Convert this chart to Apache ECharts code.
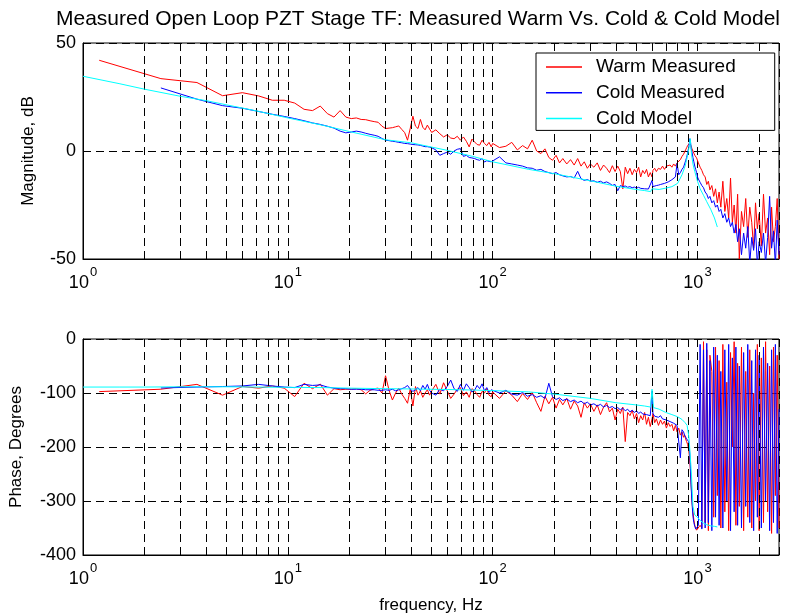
<!DOCTYPE html>
<html><head><meta charset="utf-8">
<script src="https://cdn.jsdelivr.net/npm/echarts@6/dist/echarts.min.js"></script>
<style>html,body{margin:0;padding:0;background:#fff}#c{width:788px;height:616px}</style>
</head><body><div id="c"></div>
<script>
// ---- data ----
const freqMeas = [
  1.2, 2.4, 3.6, 4.8, 6.0, 7.2, 8.4, 9.6, 10.8, 12.0, 13.2, 14.4, 15.6, 16.8, 18.0, 19.2, 20.4, 21.6, 22.8, 24.0, 25.2, 26.4, 27.6, 28.8, 30.0,
  31.2, 32.4, 33.6, 34.8, 36.0, 37.2, 38.4, 39.6, 40.8, 42.0, 43.2, 44.4, 45.6, 46.8, 48.0, 49.2, 50.4,
  52.8, 55.2, 57.6, 60.0, 62.4, 64.8, 67.2, 69.6, 72.0, 74.4, 76.8, 79.2, 81.6, 84.0, 86.4, 88.8, 91.2, 93.6, 96.0, 98.4,
  100, 108, 116, 124, 132, 140, 148, 156, 164, 172, 180, 188, 196, 204, 212, 220, 230, 240, 250, 260, 270, 280, 290, 300,
  312, 324, 336, 348, 360, 372, 384, 396, 408, 420, 432, 444, 456, 468, 480, 492, 504, 516, 528, 540, 552, 564, 576, 588, 600,
  606, 618, 630, 645, 660, 675, 690, 705, 720, 735, 750, 765, 780, 795, 810, 825, 840, 855, 865, 875, 885, 895, 905, 912, 918, 924, 930, 940, 950, 960, 970, 980, 990, 1000,
  1010, 1030, 1050, 1070, 1090, 1110, 1130, 1150, 1175, 1200, 1225, 1250, 1275, 1300, 1330, 1360, 1390, 1420, 1450, 1480, 1510, 1540, 1570, 1600, 1640, 1680, 1720, 1760, 1800, 1840, 1880, 1920, 1960, 2000, 2050, 2100, 2150, 2200, 2250, 2300, 2350, 2400, 2450, 2500
];
const warmMag = [
  42.0, 33.5, 31.7, 25.6, 27.0, 25.5, 23.5, 23.5, 22.2, 19.3, 18.7, 20.8, 17.3, 15.7, 18.7, 15.7, 15.0, 15.3, 14.6, 14.5, 14.0, 13.6, 13.3, 11.5, 10.4,
  10.6, 10.8, 11.2, 11.6, 10.0, 8.5, 5.0, 10.5, 16.1, 11.5, 10.4, 14.6, 11.0, 9.8, 12.0, 10.2, 8.6,
  9.8, 8.0, 6.5, 7.5, 6.0, 5.7, 6.8, 5.0, 6.5, 4.5, 1.9, 5.5, 4.2, 3.0, 2.7, 5.0, 3.5, 2.5, 4.0, 1.9,
  3.5, 1.6, 2.2, 4.0, 0.5, 2.5, 1.0, 5.0, 0.0, -1.2, 1.0, -3.0, -4.3, -2.0, -5.5, -3.5, -6.0, -4.0, -6.5, -3.5, -7.0, -5.0, -8.0, -6.0,
  -7.5, -5.5, -9.0, -6.5, -8.0, -10.0, -6.8, -9.5, -7.0, -9.5, -17.5, -7.5, -10.5, -8.0, -11.0, -8.5, -10.0, -7.5, -12.0, -9.0, -10.5, -8.5, -12.0, -10.0, -12.0,
  -9.0, -8.0, -9.5, -8.0, -8.5, -7.0, -8.5, -7.0, -7.8, -6.5, -7.5, -6.0, -7.0, -5.5, -5.0, -4.0, -2.5, -1.5, -0.5, 0.5, 1.5, 2.5, 3.2, 3.5, 3.4, 3.0, 2.5, 1.0, 0.0, -1.0, -2.0, -2.8, -3.2, -3.5,
  -5.5, -7.5, -9.0, -11.0, -12.0, -15.5, -14.0, -18.0, -16.0, -21.0, -17.5, -24.0, -19.0, -26.0, -14.0, -28.0, -22.0, -31.0, -12.5, -33.0, -25.0, -38.0, -20.0, -50.0, -28.0, -35.0, -22.0, -40.0, -26.0, -33.0, -45.0, -24.0, -36.0, -29.0, -44.0, -20.0, -38.0, -31.0, -48.0, -26.0, -42.0, -35.0, -22.0, -50.0
];
const coldMag = [
  null, 29.2, 24.0, 21.0, 19.8, 18.3, 17.0, 16.0, 15.0, 14.0, 13.0, 12.3, 11.5, 10.6, 9.2, 8.4, 8.8, 9.2, 8.8, 8.2, 7.7, 7.3, 6.8, 5.8, 5.0,
  4.8, 4.5, 4.3, 4.0, 3.8, 3.5, 3.4, 3.2, 3.0, 2.9, 2.8, 2.6, 2.3, 2.0, 2.0, 1.8, 1.5,
  0.5, -2.0, -1.2, -0.5, -1.5, 0.0, 0.8, 1.1, -2.5, -2.0, -3.0, -3.2, -3.5, -4.0, -4.3, -3.5, -5.1, -4.5, -4.8, -5.0,
  -4.8, -2.7, -5.5, -6.0, -6.5, -7.0, -7.8, -8.0, -8.9, -8.5, -9.5, -10.0, -10.5, -10.0, -11.0, -11.5, -12.0, -11.8, -12.5, -9.4, -12.8, -13.6, -13.2, -14.0,
  -13.8, -14.5, -14.0, -14.8, -14.3, -15.0, -15.9, -15.5, -18.4, -16.0, -16.5, -16.2, -16.8, -16.5, -17.0, -16.7, -17.2, -16.8, -17.3, -17.0, -17.5, -17.2, -17.6, -17.4, -13.6,
  -16.5, -16.2, -16.0, -15.8, -15.5, -15.2, -15.0, -14.5, -14.3, -13.8, -13.3, -12.5, -12.0, -5.8, -11.0, -10.0, -8.5, -7.5, -6.0, -4.5, -3.0, -1.0, 1.5, 3.5, 5.7, 4.5, 1.5, -0.5, -3.0, -5.0, -7.0, -8.5, -10.0, -12.0,
  -13.0, -14.5, -16.0, -17.0, -19.0, -20.0, -22.0, -21.0, -24.0, -23.0, -26.0, -25.0, -28.0, -27.0, -31.0, -29.0, -33.0, -31.0, -35.0, -33.0, -38.0, -34.0, -42.0, -36.0, -48.0, -38.0, -45.0, -35.0, -52.0, -40.0, -46.0, -36.0, -53.0, -42.0, -47.0, -38.0, -52.0, -40.0, -21.0, -45.0, -37.0, -53.0, -32.0, -48.0
];
const warmPhase = [
  -97.4, -93, -84, -104, -88, -91, -87, -91, -106.6, -82, -92, -83.4, -104, -92, -94, -93, -93, -92, -94, -101.6, -95, -92, -91, -100, -68,
  -95, -113, -100, -91, -102, -110, -119, -92, -124, -88, -104, -96, -108, -100, -94, -104, -96,
  -84, -102, -81, -96, -110, -102, -93, -90, -105, -98, -108, -92, -96, -103, -108, -97, -100, -92, -104, -107,
  -98, -110, -96, -104, -116, -101, -112, -99, -118, -134, -106, -120, -108, -128, -112, -122, -110, -130, -115, -124, -145, -118, -128, -120,
  -134, -122, -140, -126, -118, -135, -128, -150, -130, -138, -126, -190, -136, -142, -132, -148, -138, -155, -142, -150, -136, -158, -145, -162, -148,
  -138, -155, -148, -160, -150, -158, -152, -165, -155, -162, -158, -170, -160, -172, -165, -178, -172, -182, -178, -185, -190, -195, -205, -215, -230, -245, -265, -300, -320, -335, -345, -350, -354, -352,
  -352, -345, -350, -5, -340, -20, -355, -30, -60, -330, -15, -290, -40, -350, -10, -320, -80, -355, -25, -200, -5, -345, -45, -310, -15, -355, -60, -330, -20, -350, -100, -300, -10, -355, -35, -340, -5, -320, -50, -360, -15, -290, -30, -350
];
const coldPhase = [
  null, -90.7, -89, -88, -87, -84, -87, -89, -90, -84, -86, -85, -89, -91, -92, -92, -93, -93, -93, -94, -94, -94, -95, -95, -94,
  -95, -93, -96, -94, -92, -90, -86, -93, -97, -94, -90, -96, -86, -93, -84, -95, -100,
  -104, -93, -96, -88, -76, -92, -97, -84, -95, -83, -90, -98, -95, -86, -92, -83, -96, -90, -99, -94,
  -97, -100, -95, -102, -104, -99, -106, -103, -108, -105, -110, -82, -107, -112, -109, -114, -111, -116, -113, -118, -115, -120, -117, -122,
  -120, -124, -121, -126, -123, -127, -125, -129, -127, -131, -128, -133, -130, -135, -132, -136, -133, -138, -135, -139, -137, -140, -138, -142, -97,
  -138, -143, -140, -145, -142, -148, -146, -150, -148, -153, -151, -156, -154, -160, -158, -220, -168, -172, -178, -180, -185, -188, -190, -200, -215, -240, -270, -303, -328, -340, -347, -352, -355, -350,
  -345, -10, -352, -20, -350, -8, -340, -40, -355, -15, -330, -30, -345, -60, -350, -20, -300, -10, -355, -35, -320, -15, -345, -50, -350, -25, -310, -10, -340, -40, -355, -20, -330, -30, -350, -15, -300, -45, -355, -20, -340, -10, -360, -130
];
const freqModel = [1, 1.5, 2, 3, 4, 5, 7, 10, 15, 20, 30, 40, 60, 80, 100, 150, 200, 300, 400, 500, 550, 590, 600, 610, 650, 700, 750, 800, 840, 870, 890, 905, 913, 921, 927, 935, 950, 970, 1000, 1030, 1070, 1110, 1160, 1210, 1250];
const modelMag = [34.6, 31.2, 28.6, 25.3, 23.3, 21.4, 18.6, 15.3, 11.8, 9.0, 5.2, 3.8, 0.3, -2.5, -5.0, -8.5, -10.5, -13.8, -16.3, -17.8, -18.3, -18.8, -17.5, -18.0, -17.8, -17.2, -16.5, -15.0, -11.0, -7.0, -3.0, 0.5, 3.0, 5.7, 3.0, -1.5, -6.0, -9.5, -14.0, -17.5, -20.5, -23.5, -27.0, -31.0, -35.2];
const modelPhase = [-89, -89, -89, -88.5, -88.5, -88.5, -89, -89.5, -90, -91, -92, -92.5, -93.5, -94.5, -95.5, -98, -102, -110, -118, -122, -124, -126, -93, -127, -130, -136, -140, -144, -149, -155, -160, -178, -193, -215, -230, -254, -310, -326, -330, -336, -341, -344, -346, -347, -348];
const minorGrid = [2, 3, 4, 5, 6, 7, 8, 9, 20, 30, 40, 50, 60, 70, 80, 90, 200, 300, 400, 500, 600, 700, 800, 900, 2000];
const seriesNames = ['Warm Measured', 'Cold Measured', 'Cold Model'];
const titleText = 'Measured Open Loop PZT Stage TF: Measured Warm Vs. Cold & Cold Model';

// ---- build ----
function pairs(fs, vs) {
  const out = [];
  for (let i = 0; i < fs.length; i++) if (vs[i] !== null) out.push([fs[i], vs[i]]);
  return out;
}
const FONT = 'Liberation Sans';
const colors = ['#ff0000', '#0000ff', '#00ffff'];
const dash = [8, 5];

function xAxis(gi) {
  return {
    type: 'log', logBase: 10, min: 1, max: 2500, gridIndex: gi,
    axisLine: { show: true, onZero: false, lineStyle: { color: '#000', width: 1 } },
    axisTick: { show: true, inside: true, length: 6, lineStyle: { color: '#000' } },
    axisLabel: {
      margin: 9, color: '#000',
      formatter: function (v) {
        const e = Math.round(Math.log10(v));
        if (Math.abs(Math.pow(10, e) - v) > 1e-6 * v) return '';
        return '{b|10}{s|' + e + '}';
      },
      rich: {
        b: { fontSize: 18, fontFamily: FONT, color: '#000', verticalAlign: 'bottom', lineHeight: 24 },
        s: { fontSize: 13, fontFamily: FONT, color: '#000', verticalAlign: 'bottom', lineHeight: 24, padding: [0, 0, 13, 1] }
      }
    },
    splitLine: { show: true, lineStyle: { type: dash, color: '#000', width: 1 } }
  };
}
function gridLines() {
  return {
    symbol: 'none', silent: true, animation: false,
    label: { show: false },
    lineStyle: { type: dash, color: '#000', width: 1 },
    data: minorGrid.map(v => ({ xAxis: v }))
  };
}
function lineSeries(name, xi, data, color, z) {
  return {
    name: name, type: 'line', xAxisIndex: xi, yAxisIndex: xi, data: data,
    showSymbol: false, symbol: 'none', animation: false, z: z,
    lineStyle: { color: color, width: 1 }, itemStyle: { color: color }
  };
}

const chart = echarts.init(document.getElementById('c'), null, { renderer: 'canvas' });
chart.setOption({
  backgroundColor: '#fff',
  textStyle: { fontFamily: FONT },
  title: {
    text: titleText, left: 413, top: 4, textAlign: 'center',
    textStyle: { fontSize: 21, fontWeight: 'normal', color: '#000', fontFamily: FONT }
  },
  legend: {
    data: seriesNames, orient: 'vertical', left: 536, top: 53,
    icon: 'rect', z: 10,
    backgroundColor: '#fff', borderColor: '#000', borderWidth: 1, borderRadius: 0,
    padding: [4, 39, 2, 10], itemWidth: 36, itemHeight: 1.5, itemGap: 5.7,
    textStyle: { fontSize: 19, color: '#000', fontFamily: FONT, padding: [0, 0, 0, 9], lineHeight: 20 },
    selectedMode: false
  },
  grid: [
    { left: 83, right: 9, top: 43, height: 216, show: true, borderColor: '#000', borderWidth: 1, backgroundColor: '#fff' },
    { left: 83, right: 9, top: 339, height: 216, show: true, borderColor: '#000', borderWidth: 1, backgroundColor: '#fff' }
  ],
  xAxis: [
    xAxis(0),
    Object.assign(xAxis(1), { name: 'frequency, Hz', nameLocation: 'middle', nameGap: 42, nameTextStyle: { fontSize: 17, color: '#000', fontFamily: FONT } })
  ],
  yAxis: [
    {
      type: 'value', gridIndex: 0, min: -50, max: 50, interval: 50,
      name: 'Magnitude, dB', nameLocation: 'middle', nameGap: 46, nameRotate: 90,
      nameTextStyle: { fontSize: 17, color: '#000', fontFamily: FONT },
      axisLine: { show: true, onZero: false, lineStyle: { color: '#000' } },
      axisTick: { show: true, inside: true, length: 6, lineStyle: { color: '#000' } },
      axisLabel: { fontSize: 18, color: '#000', margin: 7, fontFamily: FONT },
      splitLine: { show: true, lineStyle: { type: dash, color: '#000', width: 1 } }
    },
    {
      type: 'value', gridIndex: 1, min: -400, max: 0, interval: 100,
      name: 'Phase, Degrees', nameLocation: 'middle', nameGap: 58, nameRotate: 90,
      nameTextStyle: { fontSize: 17, color: '#000', fontFamily: FONT },
      axisLine: { show: true, onZero: false, lineStyle: { color: '#000' } },
      axisTick: { show: true, inside: true, length: 6, lineStyle: { color: '#000' } },
      axisLabel: { fontSize: 18, color: '#000', margin: 7, fontFamily: FONT },
      splitLine: { show: true, lineStyle: { type: dash, color: '#000', width: 1 } }
    }
  ],
  series: [
    { name: 'gridA', type: 'line', xAxisIndex: 0, yAxisIndex: 0, data: [], z: 1, silent: true, markLine: gridLines() },
    { name: 'gridB', type: 'line', xAxisIndex: 1, yAxisIndex: 1, data: [], z: 1, silent: true, markLine: gridLines() },
    lineSeries(seriesNames[0], 0, pairs(freqMeas, warmMag), colors[0], 3),
    lineSeries(seriesNames[1], 0, pairs(freqMeas, coldMag), colors[1], 4),
    lineSeries(seriesNames[2], 0, pairs(freqModel, modelMag), colors[2], 5),
    lineSeries(seriesNames[0], 1, pairs(freqMeas, warmPhase), colors[0], 3),
    lineSeries(seriesNames[1], 1, pairs(freqMeas, coldPhase), colors[1], 4),
    lineSeries(seriesNames[2], 1, pairs(freqModel, modelPhase), colors[2], 5)
  ]
});
</script>
</body></html>
